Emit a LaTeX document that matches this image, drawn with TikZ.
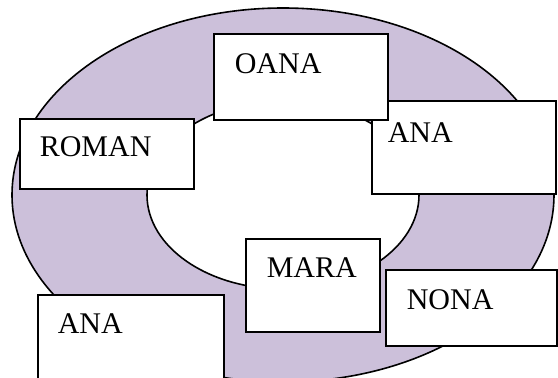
\documentclass[tikz,border=0pt]{standalone}
\usepackage{fontspec}
\newfontfamily\namefont{Liberation Serif}
\definecolor{ringlilac}{RGB}{204,192,218}
\tikzset{
    namebox/.style={draw=black, fill=white, line width=1.6pt, anchor=north west,
        inner ysep=0pt, align=left, font=\namefont\fontsize{30}{36}\selectfont},
}
\begin{document}
\begin{tikzpicture}[x=1pt, y=-1pt]
            % 1. Frame of the picture
            \clip (0,0) rectangle (558,378);

            % 2. Draw the ring
            % The outer and the inner ellipse share one centre
            \coordinate (centre) at (283,195);
            \draw[line width=1.6pt, fill=ringlilac] (centre) ellipse [x radius=271, y radius=187];
            \draw[line width=1.6pt, fill=white] (centre) ellipse [x radius=136, y radius=94];

            % 3. Draw the name boxes
            % Text sits in the upper left corner of each box
            \node[namebox, inner xsep=16pt, text width=152pt, text height=42pt, text depth=51pt] (anaright) at (371,100) {ANA};
            \node[namebox, inner xsep=21pt, text width=132pt, text height=40pt, text depth=46pt] (oana) at (213,33) {OANA};
            \node[namebox, inner xsep=20pt, text width=134pt, text height=38pt, text depth=32pt] (roman) at (19,118) {ROMAN};
            \node[namebox, inner xsep=21pt, text width=92pt, text height=39pt, text depth=54pt] (mara) at (245,238) {MARA};
            \node[namebox, inner xsep=21pt, text width=129pt, text height=40pt, text depth=36pt] (nona) at (385,269) {NONA};
            \node[namebox, inner xsep=20pt, text width=146pt, text height=39pt, text depth=61pt] (analeft) at (37,294) {ANA};

        \end{tikzpicture}
\end{document}
